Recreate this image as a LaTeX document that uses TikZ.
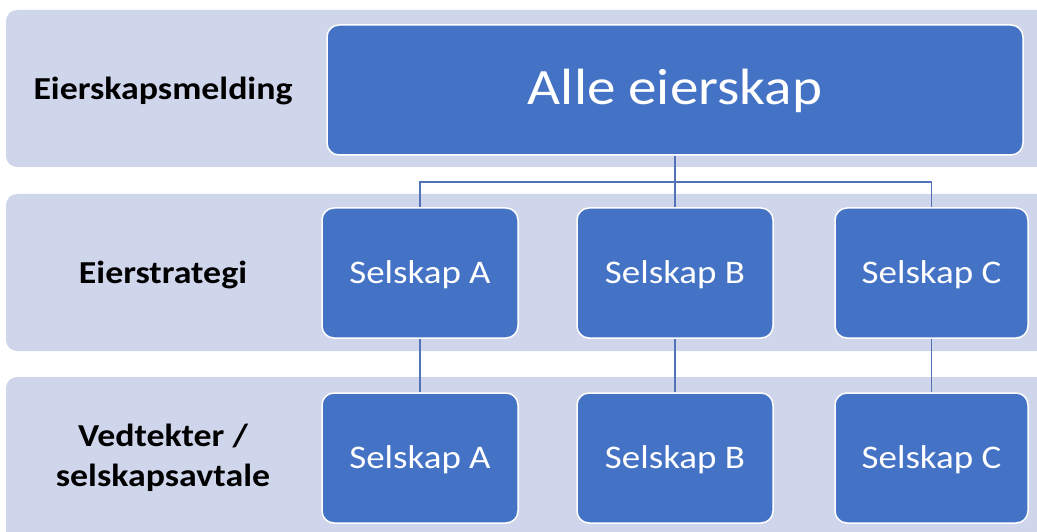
\documentclass[tikz,border=0pt]{standalone}
\usepackage{fontspec}
\newfontfamily\calfont[FakeStretch=1.12]{Carlito}
\definecolor{bandcol}{HTML}{CFD5EA}
\definecolor{boxcol}{HTML}{4472C4}
\definecolor{linecol}{HTML}{5274B6}
\tikzset{
  band/.style={fill=bandcol, rounded corners=11pt},
  orgbox/.style={draw=white, line width=1.5pt, fill=boxcol, rounded corners=12pt,
    text=white, font=\calfont\fontsize{33}{40}\selectfont, inner sep=0pt,
    minimum height=130pt},
  bigbox/.style={orgbox, font=\calfont\fontsize{51}{60}\selectfont},
  rowlabel/.style={text=black, font=\calfont\bfseries\fontsize{32}{40}\selectfont,
    align=center, inner sep=0pt},
  conn/.style={draw=linecol, line width=1.8pt}
}
\begin{document}
\begin{tikzpicture}[x=1pt, y=-1pt]
\useasboundingbox (0,0) rectangle (1037,532);
\clip (0,0) rectangle (1037,532);
% bands
\path[band] (6,10) rectangle (1060,167);
\path[band] (6,194) rectangle (1060,351);
\path[band] (6,377) rectangle (1060,545);
% row labels
\node[rowlabel, anchor=base] (l1) at (163,100) {Eierskapsmelding};
\node[rowlabel, anchor=base] (l2) at (163,283) {Eierstrategi};
\node[rowlabel] (l3) at (163,458) {Vedtekter /\\selskapsavtale};
% boxes
\node[bigbox, minimum width=696pt] (top) at (675,90) {};
\node[anchor=base, text=white, font=\calfont\fontsize{51}{60}\selectfont, inner sep=0pt] (toptext) at (top.center |- 0,105) {Alle eierskap};
\node[orgbox, minimum width=196pt] (a1) at (420,273) {};
\node[orgbox, minimum width=196pt] (b1) at (675,273) {};
\node[orgbox, minimum width=193pt] (c1) at (931.5,273) {};
\node[orgbox, minimum width=196pt] (a2) at (420,458) {};
\node[orgbox, minimum width=196pt] (b2) at (675,458) {};
\node[orgbox, minimum width=193pt] (c2) at (931.5,458) {};
% box texts on baselines
\tikzset{seltext/.style={anchor=base, text=white, font=\calfont\fontsize{33}{40}\selectfont, inner sep=0pt}}
\node[seltext] (ta1) at (a1.center |- 0,283) {Selskap A};
\node[seltext] (tb1) at (b1.center |- 0,283) {Selskap B};
\node[seltext] (tc1) at (c1.center |- 0,283) {Selskap C};
\node[seltext] (ta2) at (a2.center |- 0,468) {Selskap A};
\node[seltext] (tb2) at (b2.center |- 0,468) {Selskap B};
\node[seltext] (tc2) at (c2.center |- 0,468) {Selskap C};
% connectors
\coordinate (bus) at (0,182);
\begin{scope}[on background layer/.try]
\end{scope}
\draw[conn] (top.south) -- (b1.north);
\draw[conn] (a1.north) -- (a1.north |- bus) -- (c1.north |- bus) -- (c1.north);
\draw[conn] (a1.south) -- (a2.north);
\draw[conn] (b1.south) -- (b2.north);
\draw[conn] (c1.south) -- (c2.north);
\end{tikzpicture}
\end{document}
